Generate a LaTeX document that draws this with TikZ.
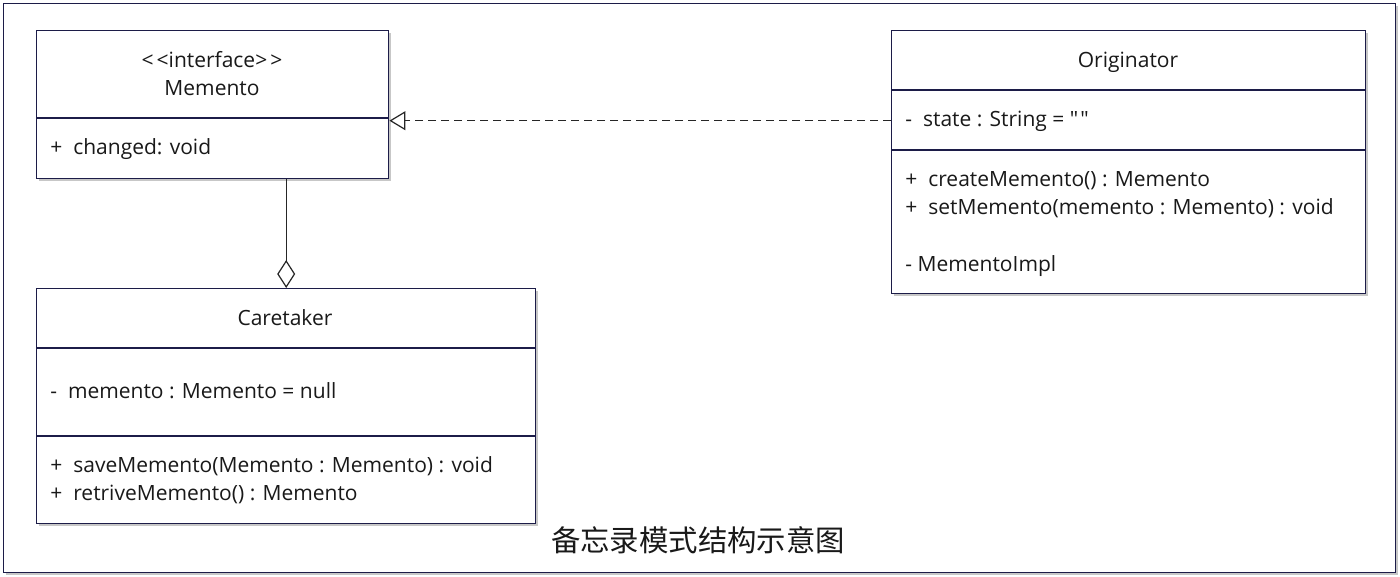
\documentclass[tikz,border=0pt]{standalone}
\usepackage{fontspec}
\setmainfont{Open Sans}[Ligatures=TeXOff]
\newfontfamily\cjk{Noto Sans CJK SC}
\usetikzlibrary{arrows.meta,positioning,shadows}
\definecolor{umlline}{RGB}{28,28,72}
\definecolor{umltext}{RGB}{25,25,25}

\begin{document}
\begin{tikzpicture}[x=0.5pt,y=-0.5pt,
 box/.style={draw=umlline,line width=0.7pt,fill=white,anchor=north west,inner sep=0pt,
   drop shadow={shadow xshift=1.2pt,shadow yshift=-1.2pt,fill=black!22,opacity=1}},
 part/.style={draw=umlline,line width=0.7pt},
 clsname/.style={font=\fontsize{10.5}{12}\selectfont,text=umltext,anchor=mid,inner sep=0pt},
 member/.style={font=\fontsize{10.5}{12}\selectfont,text=umltext,anchor=mid west,inner sep=0pt},
 realize/.style={draw=black!85,line width=0.6pt,dash pattern=on 4pt off 2.5pt,-{Triangle[open,length=8pt,width=9.5pt]}},
 aggregate/.style={draw=black!85,line width=0.6pt,{Diamond[open,length=14pt,width=9pt]}-}]
 \useasboundingbox (0,0) rectangle (1400,577);
 % outer frame and class boxes
 \node[box,minimum width=696pt,minimum height=284.5pt] (frame) at (3,3) {};
 \node[box,minimum width=176pt,minimum height=74pt] (memento) at (36,30) {};
 \node[box,minimum width=237pt,minimum height=131.5pt] (originator) at (891,30) {};
 \node[box,minimum width=249.5pt,minimum height=117.5pt] (caretaker) at (36,288) {};
 % compartments
 \draw[part] (36,118) -- (388,118);
 \draw[part] (891,90) -- (1365,90);
 \draw[part] (891,150) -- (1365,150);
 \draw[part] (36,348) -- (535,348);
 \draw[part] (36,436) -- (535,436);
 % Memento
 \node[clsname] (mstereo) at (212,62.5) {<\kern1.5pt<interface>\kern1.5pt>};
 \node[clsname] (mname) at (212,90.5) {Memento};
 \node[member] (mop) at (50,149.5) {+\ \ changed: void};
 % Originator
 \node[clsname] (oname) at (1128,62.5) {Originator};
 \node[member] (oattr) at (905,121.5) {-\ \ state : String = "\kern1pt"};
 \node[member] (oop1) at (905,181.5) {+\ \ createMemento() : Memento};
 \node[member] (oop2) at (905,209.5) {+\ \ setMemento(memento : Memento) : void};
 \node[member] (oinner) at (905,266.5) {- MementoImpl};
 % Caretaker
 \node[clsname] (cname) at (285,320.5) {Caretaker};
 \node[member] (cattr) at (50,393.5) {-\ \ memento : Memento = null};
 \node[member] (cop1) at (50,467.5) {+\ \ saveMemento(Memento : Memento) : void};
 \node[member] (cop2) at (50,495.5) {+\ \ retriveMemento() : Memento};
 % relations
 \draw[realize] ([yshift=20.75pt]originator.west) -- ([yshift=20.75pt]originator.west -| memento.east);
 \draw[aggregate] (caretaker.north) -- (caretaker.north |- memento.south);
 \node[font=\cjk\fontsize{14.7}{16}\selectfont,text=umltext] (title) at (698,540) {备忘录模式结构示意图};
\end{tikzpicture}
\end{document}
